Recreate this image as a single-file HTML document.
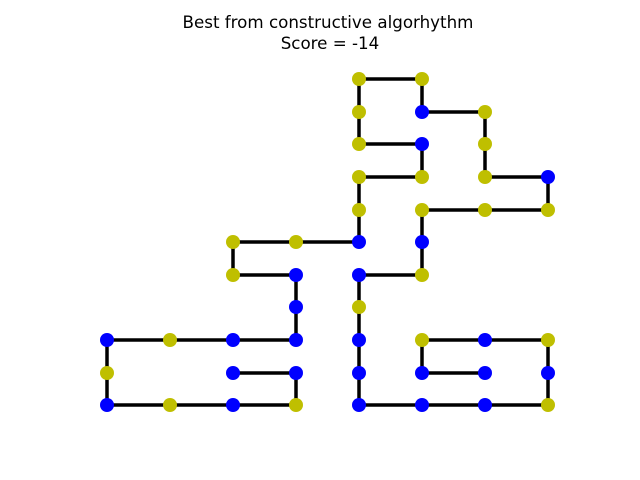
<!DOCTYPE html>
<html><head><meta charset="utf-8"><style>
html,body{margin:0;padding:0;background:#fff;}
svg{display:block;}
text{font-family:"DejaVu Sans","Liberation Sans",sans-serif;font-size:16.7px;fill:#000;}
</style></head><body>
<svg width="640" height="480" viewBox="0 0 640 480" xmlns="http://www.w3.org/2000/svg">
<rect width="640" height="480" fill="#fff"/>
<text x="328" y="28" text-anchor="middle">Best from constructive algorhythm</text>
<text x="330" y="49" text-anchor="middle">Score = -14</text>
<polyline fill="none" stroke="#000" stroke-width="3.5" stroke-linejoin="miter" points="485,373 422,373 422,340 485,340 548,340 548,373 548,405 485,405 422,405 359,405 359,373 359,340 359,307 359,275 422,275 422,242 422,210 485,210 548,210 548,177 485,177 485,144 485,112 422,112 422,79 359,79 359,112 359,144 422,144 422,177 359,177 359,210 359,242 296,242 233,242 233,275 296,275 296,307 296,340 233,340 170,340 107,340 107,373 107,405 170,405 233,405 296,405 296,373 233,373"/>
<g>
<circle cx="485" cy="373" r="7" fill="#0000ff"/>
<circle cx="422" cy="373" r="7" fill="#0000ff"/>
<circle cx="422" cy="340" r="7" fill="#bfbf00"/>
<circle cx="485" cy="340" r="7" fill="#0000ff"/>
<circle cx="548" cy="340" r="7" fill="#bfbf00"/>
<circle cx="548" cy="373" r="7" fill="#0000ff"/>
<circle cx="548" cy="405" r="7" fill="#bfbf00"/>
<circle cx="485" cy="405" r="7" fill="#0000ff"/>
<circle cx="422" cy="405" r="7" fill="#0000ff"/>
<circle cx="359" cy="405" r="7" fill="#0000ff"/>
<circle cx="359" cy="373" r="7" fill="#0000ff"/>
<circle cx="359" cy="340" r="7" fill="#0000ff"/>
<circle cx="359" cy="307" r="7" fill="#bfbf00"/>
<circle cx="359" cy="275" r="7" fill="#0000ff"/>
<circle cx="422" cy="275" r="7" fill="#bfbf00"/>
<circle cx="422" cy="242" r="7" fill="#0000ff"/>
<circle cx="422" cy="210" r="7" fill="#bfbf00"/>
<circle cx="485" cy="210" r="7" fill="#bfbf00"/>
<circle cx="548" cy="210" r="7" fill="#bfbf00"/>
<circle cx="548" cy="177" r="7" fill="#0000ff"/>
<circle cx="485" cy="177" r="7" fill="#bfbf00"/>
<circle cx="485" cy="144" r="7" fill="#bfbf00"/>
<circle cx="485" cy="112" r="7" fill="#bfbf00"/>
<circle cx="422" cy="112" r="7" fill="#0000ff"/>
<circle cx="422" cy="79" r="7" fill="#bfbf00"/>
<circle cx="359" cy="79" r="7" fill="#bfbf00"/>
<circle cx="359" cy="112" r="7" fill="#bfbf00"/>
<circle cx="359" cy="144" r="7" fill="#bfbf00"/>
<circle cx="422" cy="144" r="7" fill="#0000ff"/>
<circle cx="422" cy="177" r="7" fill="#bfbf00"/>
<circle cx="359" cy="177" r="7" fill="#bfbf00"/>
<circle cx="359" cy="210" r="7" fill="#bfbf00"/>
<circle cx="359" cy="242" r="7" fill="#0000ff"/>
<circle cx="296" cy="242" r="7" fill="#bfbf00"/>
<circle cx="233" cy="242" r="7" fill="#bfbf00"/>
<circle cx="233" cy="275" r="7" fill="#bfbf00"/>
<circle cx="296" cy="275" r="7" fill="#0000ff"/>
<circle cx="296" cy="307" r="7" fill="#0000ff"/>
<circle cx="296" cy="340" r="7" fill="#0000ff"/>
<circle cx="233" cy="340" r="7" fill="#0000ff"/>
<circle cx="170" cy="340" r="7" fill="#bfbf00"/>
<circle cx="107" cy="340" r="7" fill="#0000ff"/>
<circle cx="107" cy="373" r="7" fill="#bfbf00"/>
<circle cx="107" cy="405" r="7" fill="#0000ff"/>
<circle cx="170" cy="405" r="7" fill="#bfbf00"/>
<circle cx="233" cy="405" r="7" fill="#0000ff"/>
<circle cx="296" cy="405" r="7" fill="#bfbf00"/>
<circle cx="296" cy="373" r="7" fill="#0000ff"/>
<circle cx="233" cy="373" r="7" fill="#0000ff"/>
</g>
</svg>
</body></html>
